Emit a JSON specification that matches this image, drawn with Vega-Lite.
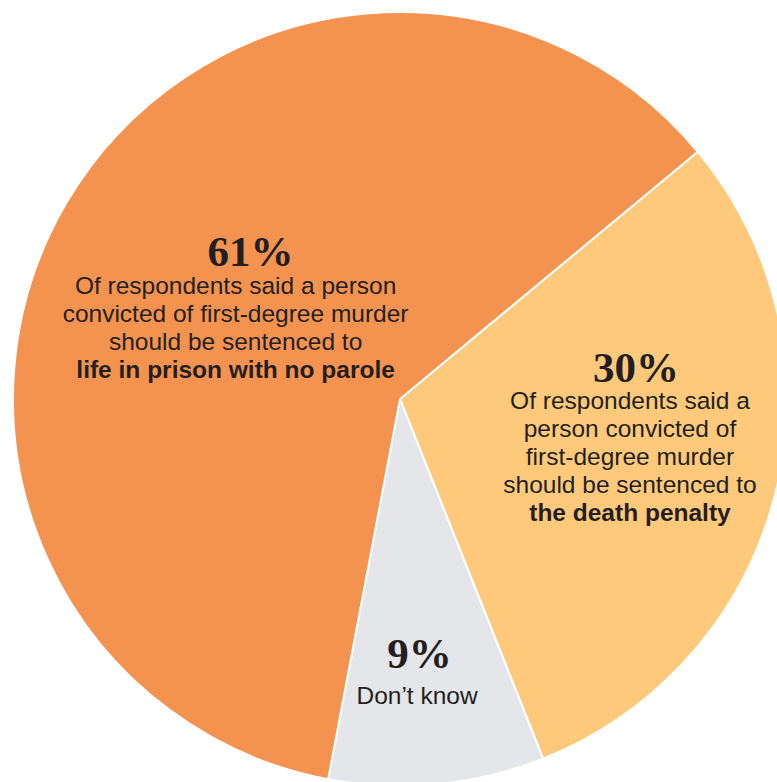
{
  "$schema": "https://vega.github.io/schema/vega-lite/v6.json",
  "width": 774,
  "height": 774,
  "padding": {"left": 13, "top": 12, "right": 0, "bottom": 0},
  "autosize": {"type": "none"},
  "background": "white",
  "view": {"stroke": null},
  "config": {"text": {"color": "#231f20", "align": "center", "baseline": "alphabetic"}},
  "data": {"values": [
    {"category": "Death penalty", "value": 30, "pct": "30%", "body": "Of respondents said a\nperson convicted of\nfirst-degree murder\nshould be sentenced to", "bold": "the death penalty"},
    {"category": "Don't know", "value": 9, "pct": "9%", "body": "Don’t know", "bold": ""},
    {"category": "Life in prison", "value": 61, "pct": "61%", "body": "Of respondents said a person\nconvicted of first-degree murder\nshould be sentenced to", "bold": "life in prison with no parole"}
  ]},
  "encoding": {
    "theta": {"field": "value", "type": "quantitative", "stack": true, "scale": {"range": [0.878, 7.161]}},
    "order": {"field": "category", "type": "ordinal", "sort": "ascending"}
  },
  "layer": [
    {
      "mark": {"type": "arc", "stroke": "white", "strokeWidth": 2},
      "encoding": {
        "color": {"field": "category", "type": "nominal", "legend": null,
          "scale": {"domain": ["Death penalty", "Don't know", "Life in prison"], "range": ["#FEC97A", "#E4E6E9", "#F4934F"]}}
      }
    },
    {
      "mark": {"type": "text", "radius": 185, "dx": 10, "dy": -39, "font": "Liberation Serif", "fontWeight": "bold", "fontSize": 43, "letterSpacing": -2},
      "encoding": {"text": {"condition": {"test": "datum.category === 'Life in prison'", "field": "pct"}, "value": ""}}
    },
    {
      "mark": {"type": "text", "radius": 185, "dx": -5, "dy": -11, "font": "Liberation Sans", "fontSize": 24.5, "lineBreak": "\n", "lineHeight": 28},
      "encoding": {"text": {"condition": {"test": "datum.category === 'Life in prison'", "field": "body"}, "value": ""}}
    },
    {
      "mark": {"type": "text", "radius": 185, "dx": -5, "dy": 73, "font": "Liberation Sans", "fontWeight": "bold", "fontSize": 24.5},
      "encoding": {"text": {"condition": {"test": "datum.category === 'Life in prison'", "field": "bold"}, "value": ""}}
    },
    {
      "mark": {"type": "text", "radius": 240, "dx": 3.5, "dy": -76, "font": "Liberation Serif", "fontWeight": "bold", "fontSize": 43, "letterSpacing": -2},
      "encoding": {"text": {"condition": {"test": "datum.category === 'Death penalty'", "field": "pct"}, "value": ""}}
    },
    {
      "mark": {"type": "text", "radius": 240, "dx": -2.6, "dy": -49, "font": "Liberation Sans", "fontSize": 24.5, "lineBreak": "\n", "lineHeight": 28},
      "encoding": {"text": {"condition": {"test": "datum.category === 'Death penalty'", "field": "body"}, "value": ""}}
    },
    {
      "mark": {"type": "text", "radius": 240, "dx": -2.6, "dy": 62.5, "font": "Liberation Sans", "fontWeight": "bold", "fontSize": 24.5},
      "encoding": {"text": {"condition": {"test": "datum.category === 'Death penalty'", "field": "bold"}, "value": ""}}
    },
    {
      "mark": {"type": "text", "radius": 272, "dx": -6.5, "dy": -2, "font": "Liberation Serif", "fontWeight": "bold", "fontSize": 43, "letterSpacing": -2},
      "encoding": {"text": {"condition": {"test": "datum.category === \"Don't know\"", "field": "pct"}, "value": ""}}
    },
    {
      "mark": {"type": "text", "radius": 272, "dx": -9, "dy": 34, "font": "Liberation Sans", "fontSize": 24.5},
      "encoding": {"text": {"condition": {"test": "datum.category === \"Don't know\"", "field": "body"}, "value": ""}}
    }
  ]
}
